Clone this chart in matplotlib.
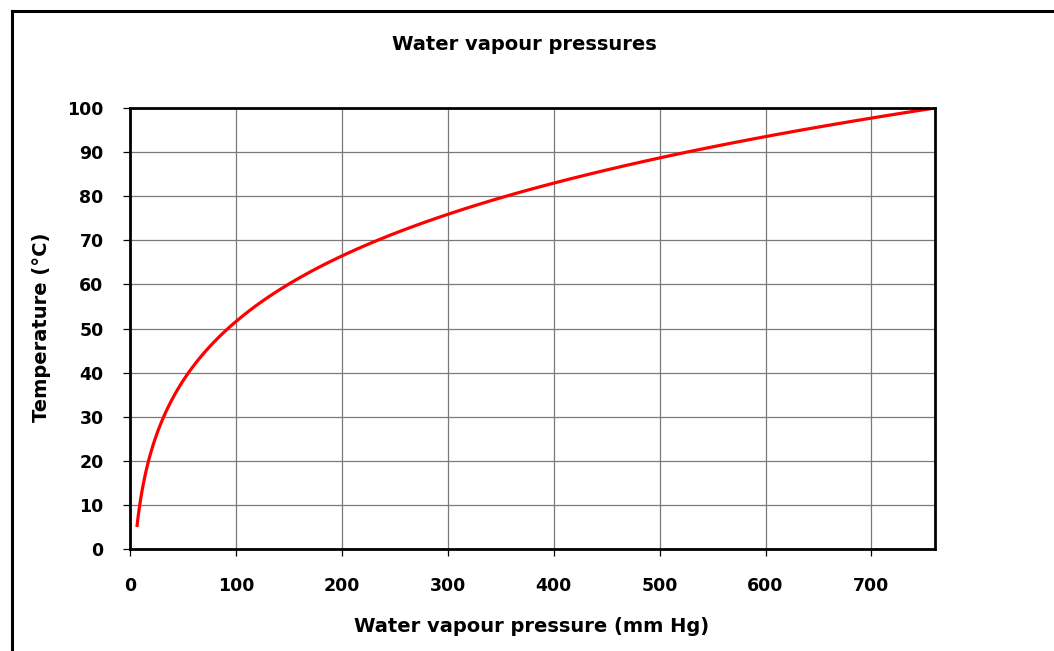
import matplotlib.pyplot as plt
from matplotlib.lines import Line2D

plt.rcParams['font.family'] = ['DejaVu Sans']

# temperature (C) vs water vapour pressure (mm Hg), 5..100 C in 1 C steps
temperature = list(range(5, 101))
pressure = [6.54, 7.01, 7.51, 8.05, 8.61, 9.21, 9.84, 10.52, 11.23, 11.99,
            12.79, 13.63, 14.53, 15.48, 16.48, 17.54, 18.65, 19.83, 21.07, 22.38,
            23.76, 25.21, 26.74, 28.35, 30.04, 31.82, 33.70, 35.66, 37.73, 39.90,
            42.18, 44.56, 47.07, 49.69, 52.44, 55.32, 58.34, 61.50, 64.80, 68.26,
            71.88, 75.65, 79.60, 83.71, 88.02, 92.51, 97.20, 102.09, 107.20, 112.51,
            118.04, 123.80, 129.82, 136.08, 142.60, 149.38, 156.43, 163.77, 171.38, 179.31,
            187.54, 196.09, 204.96, 214.17, 223.73, 233.7, 243.9, 254.6, 265.7, 277.2,
            289.1, 301.4, 314.1, 327.3, 341.0, 355.1, 369.7, 384.9, 400.6, 416.8,
            433.6, 450.9, 468.7, 487.1, 506.1, 525.76, 546.05, 566.99, 588.60, 610.90,
            633.90, 657.62, 682.07, 707.27, 733.24, 760.00]

xticks = [0, 100, 200, 300, 400, 500, 600, 700]
yticks = list(range(0, 101, 10))

W, H = 1054, 651
fig = plt.figure(figsize=(W / 100, H / 100), dpi=100)
ax = fig.add_axes([130 / W, 1 - 549 / H, (935 - 130) / W, (549 - 108) / H])

ax.plot(pressure, temperature, color='#ff0000', linewidth=2.3, solid_capstyle='butt')

ax.set_xlim(0, 760)
ax.set_ylim(0, 100)
ax.set_xticks(xticks)
ax.set_yticks(yticks)
ax.grid(True, color='#7a7a7a', linewidth=0.9)
ax.set_axisbelow(True)
for s in ax.spines.values():
    s.set_linewidth(2)
    s.set_color('black')
ax.tick_params(direction='out', length=5, width=0.9, labelsize=12.5)
ax.tick_params(axis='y', pad=14)
ax.tick_params(axis='x', pad=15)
for lab in ax.get_xticklabels() + ax.get_yticklabels():
    lab.set_fontweight('bold')

fig.text(524 / W, 1 - 45 / H, 'Water vapour pressures', ha='center', va='center',
         fontsize=14, fontweight='bold')
fig.text(532 / W, 1 - 626 / H, 'Water vapour pressure (mm Hg)', ha='center', va='center',
         fontsize=14, fontweight='bold')
fig.text(42 / W, 1 - 327 / H, 'Temperature (°C)', ha='center', va='center',
         rotation=90, fontsize=14, fontweight='bold')

# outer chart frame (only top and left edges are visible)
fig.add_artist(Line2D([11.5 / W, 11.5 / W], [0, 1 - 10.5 / H], color='black', linewidth=2.2))
fig.add_artist(Line2D([11.5 / W, 1], [1 - 10.5 / H, 1 - 10.5 / H], color='black', linewidth=2.2))

fig.savefig('out.png', dpi=100)
